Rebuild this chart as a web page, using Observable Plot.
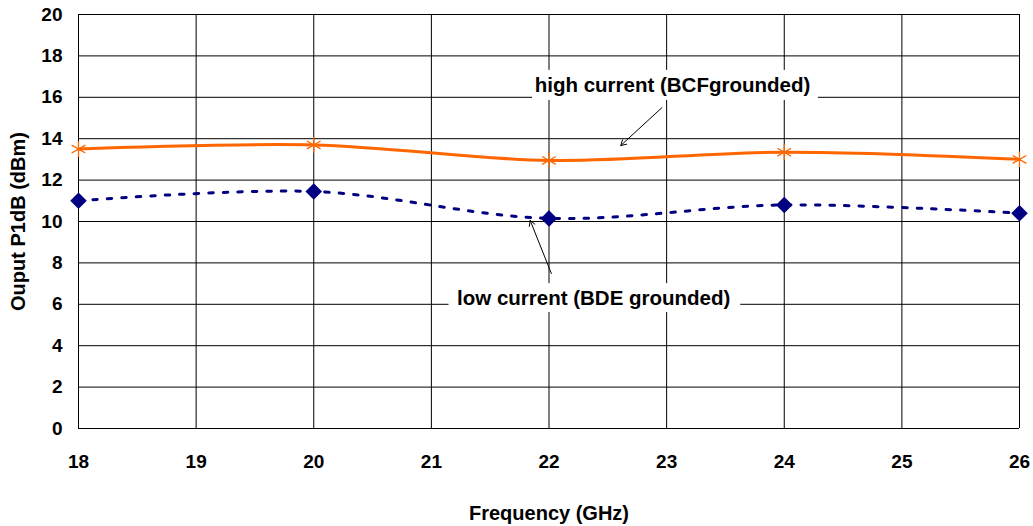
<!DOCTYPE html>
<html>
<head>
<meta charset="utf-8">
<script src="https://cdn.jsdelivr.net/npm/d3@7"></script>
<script src="https://cdn.jsdelivr.net/npm/@observablehq/plot@0.6"></script>
<style>
  html, body { margin: 0; padding: 0; background: #fff; }
</style>
</head>
<body>
<div id="chart"></div>
<script>
const freq = [18, 20, 22, 24, 26];
const highCurrent = [13.5, 13.7, 12.95, 13.35, 13.0];
const lowCurrent = [11.0, 11.45, 10.15, 10.8, 10.4];
const xTicks = [18, 19, 20, 21, 22, 23, 24, 25, 26];
const yTicks = [0, 2, 4, 6, 8, 10, 12, 14, 16, 18, 20];
const highLabel = "high current (BCFgrounded)";
const lowLabel = "low current (BDE grounded)";
const xTitle = "Frequency (GHz)";
const yTitle = "Ouput P1dB (dBm)";

const high = freq.map((f, i) => ({f, v: highCurrent[i]}));
const low = freq.map((f, i) => ({f, v: lowCurrent[i]}));

const chart = Plot.plot({
  width: 1033,
  height: 526,
  marginLeft: 78,
  marginRight: 14,
  marginTop: 14,
  marginBottom: 98,
  style: {fontFamily: "'Liberation Sans', Arial, sans-serif", fontWeight: "bold", fontSize: "19px", color: "#000", background: "#fff"},
  x: {domain: [18, 26], ticks: xTicks, tickSize: 0, tickPadding: 26, label: null},
  y: {domain: [0, 20], ticks: yTicks, tickSize: 0, tickPadding: 16, label: null},
  marks: [
    Plot.ruleX(xTicks, {stroke: "#000", strokeWidth: 1}),
    Plot.ruleY(yTicks, {stroke: "#000", strokeWidth: 1}),
    Plot.rect([0], {x1: 21.86, x2: 24.29, y1: 15.85, y2: 17.3, fill: "#fff"}),
    Plot.rect([0], {x1: 21.15, x2: 23.63, y1: 5.6, y2: 7.0, fill: "#fff"}),
    Plot.line(high, {x: "f", y: "v", stroke: "#FF6600", strokeWidth: 3, curve: "cardinal"}),
    Plot.line(low, {x: "f", y: "v", stroke: "#000080", strokeWidth: 3, strokeDasharray: "4.5,10", curve: "cardinal"}),
    Plot.dot(high, {x: "f", y: "v", symbol: "asterisk", stroke: "#FF6600", strokeWidth: 1.3, r: 7.5}),
    Plot.dot(low, {x: "f", y: "v", symbol: "diamond2", fill: "#000080", stroke: "#000080", r: 6.5}),
    Plot.text([highLabel], {x: 23.05, y: 16.57, text: d => d, fontSize: 20.5, fontWeight: "bold", fill: "#000"}),
    Plot.text([lowLabel], {x: 22.38, y: 6.3, text: d => d, fontSize: 20.5, fontWeight: "bold", fill: "#000"}),
    Plot.arrow([0], {x1: 22.96, y1: 15.5, x2: 22.61, y2: 13.67, stroke: "#000", strokeWidth: 1, headLength: 9}),
    Plot.arrow([0], {x1: 22.02, y1: 7.49, x2: 21.84, y2: 10.05, stroke: "#000", strokeWidth: 1, headLength: 9}),
    Plot.text([xTitle], {frameAnchor: "bottom", dy: 91, text: d => d, fontSize: 20, fontWeight: "bold"}),
    Plot.text([yTitle], {frameAnchor: "left", textAnchor: "middle", dx: -60, rotate: -90, text: d => d, fontSize: 20, fontWeight: "bold"})
  ]
});
document.getElementById("chart").appendChild(chart);
</script>
</body>
</html>
